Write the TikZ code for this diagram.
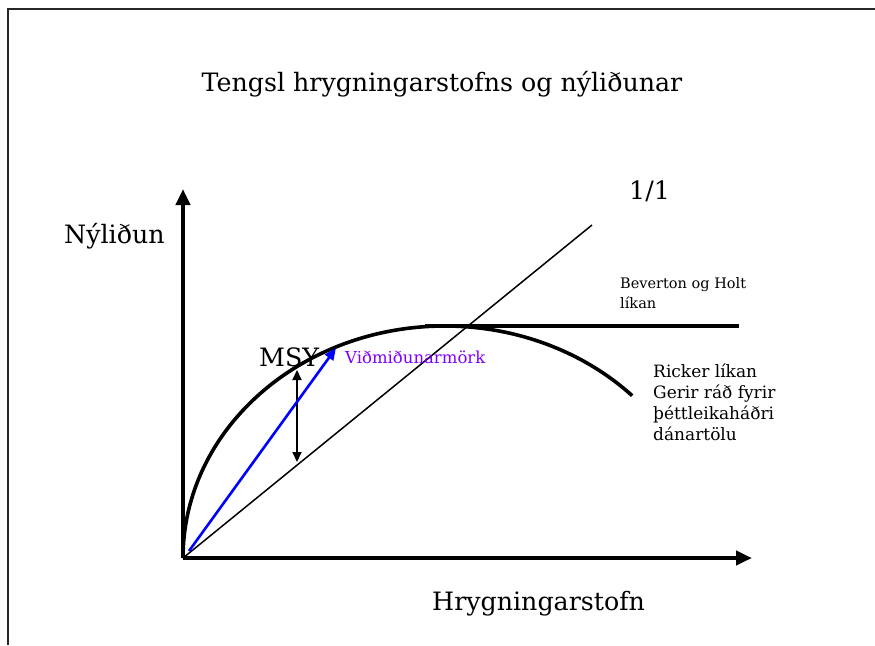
\documentclass[tikz,border=0pt]{standalone}
\usepackage{fontspec}
\setmainfont{DejaVu Serif}
\usepackage{xcolor}
\usetikzlibrary{arrows.meta, positioning, calc}
\definecolor{limit}{HTML}{0000FF}
\definecolor{limittext}{HTML}{7F00FF}

\begin{document}
\begin{tikzpicture}[
  x=1pt, y=1pt,
  % big labels share one size, the model notes are set smaller
  bigtext/.style={font=\fontsize{25.3}{30}\selectfont, inner sep=0pt, anchor=base west},
  note/.style={font=\fontsize{14.5}{19.5}\selectfont, inner sep=0pt,
               anchor=base west, align=left},
  ricker/.style={font=\fontsize{17}{21}\selectfont, inner sep=0pt,
                 anchor=base west, align=left},
  axis/.style={-{Triangle[length=16pt,width=14pt]}, line width=4pt},
  model/.style={line width=3.6pt},
  diag/.style={line width=1.5pt},
  gap/.style={{Triangle[length=10pt,width=9pt]}-{Triangle[length=10pt,width=9pt]}, line width=2pt},
  limitarrow/.style={-{Triangle[length=12pt,width=10pt]}, line width=2.6pt, color=limit}
]

\useasboundingbox (0,0) rectangle (875,-645);

% --- frame, only top and left edges show ------------------------------------
\draw[line width=2pt, black!85] (875,-9) -- (8,-9) -- (8,-645);

% --- axes ---------------------------------------------------------------------
\coordinate (O)    at (183,-558);
\coordinate (ytop) at (183,-189);
\coordinate (xend) at (752,-558);
\draw[axis] (O) -- (ytop);
\draw[axis] (O) -- (xend);

% --- 1/1 line -------------------------------------------------------------------
\coordinate (oneend) at (592,-225);
\draw[diag] (O) -- (oneend);

% --- Ricker curve and Beverton-Holt plateau ------------------------------------
\def\RX{262}  % half width of the arc
\def\RY{232}  % height of the arc
\draw[model] (O) arc[start angle=180, end angle=44.4, x radius=\RX, y radius=\RY]
  coordinate (rickerend);
\coordinate (bhstart) at (425,-326);
\coordinate (bhend)   at (739,-326);
\draw[model] (bhstart) -- (bhend);

% --- MSY gap and reference limit ------------------------------------------------
\coordinate (msyhi) at (297,-370);
\coordinate (msylo) at (297,-462);
\draw[gap] (msyhi) -- (msylo);
\coordinate (vstart) at (189,-551);
\coordinate (vtip)   at (336,-348);
\draw[limitarrow] (vstart) -- (vtip);

% --- labels (multi-line nodes sit on their last baseline) ------------------------
\node[bigtext, anchor=base] (title) at (442,-91) {Tengsl hrygningarstofns og nýliðunar};
\node[bigtext] (ylab)  at (64,-243)  {Nýliðun};
\node[bigtext] (xlab)  at (432,-610) {Hrygningarstofn};
\node[bigtext] (onelab) at (629,-199) {1/1};
\node[bigtext] (msy)   at (259,-366) {MSY};
\node[note, font=\fontsize{16.5}{20}\selectfont, text=limittext] (limitlab) at (345,-363)
  {Viðmiðunarmörk};
\node[note] (bhlab) at (620,-308) {Beverton og Holt\\líkan};
\node[ricker] (rickerlab) at (653,-440)
  {Ricker líkan\\Gerir ráð fyrir\\þéttleikaháðri\\dánartölu};

\end{tikzpicture}
\end{document}
